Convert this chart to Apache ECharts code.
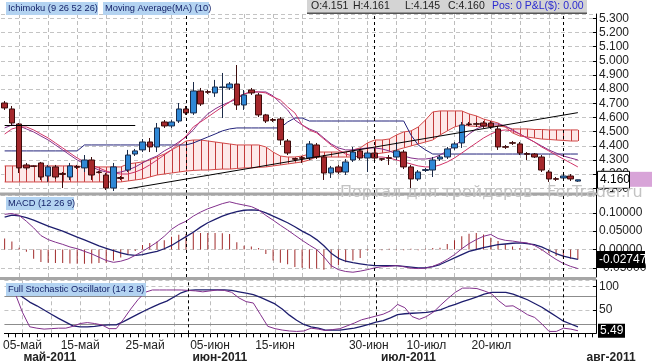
<!DOCTYPE html>
<html><head><meta charset="utf-8">
<script src="https://cdn.jsdelivr.net/npm/echarts@6/dist/echarts.min.js"></script>
<style>html,body{margin:0;padding:0;background:#fff}#c{width:652px;height:364px}</style>
</head><body><div id="c"></div>
<script>
const dates = ['03.05','04.05','05.05','06.05','08.05','09.05','10.05','11.05','12.05','13.05',
'15.05','16.05','17.05','18.05','19.05','20.05','22.05','23.05','24.05','25.05',
'26.05','27.05','29.05','30.05','31.05','01.06','02.06','03.06','05.06','06.06',
'07.06','08.06','09.06','10.06','12.06','13.06','14.06','15.06','16.06','17.06',
'19.06','20.06','21.06','22.06','23.06','24.06','26.06','27.06','28.06','29.06',
'30.06','01.07','03.07','04.07','05.07','06.07','07.07','08.07','10.07','11.07',
'12.07','13.07','14.07','15.07','17.07','18.07','19.07','20.07','21.07','22.07',
'24.07','25.07','26.07','27.07','28.07','29.07','31.07','01.08','02.08','03.08',
'04.08','05.08'];

const open = [4.702,4.660,4.554,4.265,4.258,4.279,4.187,4.251,4.205,4.180,
4.254,4.244,4.300,4.215,4.194,4.102,4.176,4.229,4.342,4.371,
4.427,4.392,4.568,4.540,4.575,4.660,4.632,4.787,4.782,4.773,
4.812,4.808,4.836,4.688,4.794,4.759,4.618,4.585,4.589,4.434,
4.310,4.316,4.314,4.406,4.321,4.208,4.251,4.215,4.300,4.364,
4.314,4.349,4.309,4.316,4.321,4.356,4.251,4.166,4.226,4.229,
4.307,4.321,4.385,4.420,4.554,4.556,4.561,4.561,4.519,4.394,
4.422,4.413,4.345,4.342,4.321,4.215,4.168,4.173,4.187,4.151];
const close = [4.667,4.561,4.244,4.244,4.255,4.180,4.251,4.180,4.198,4.258,
4.248,4.300,4.194,4.212,4.102,4.251,4.170,4.335,4.364,4.427,
4.392,4.526,4.540,4.568,4.660,4.632,4.787,4.695,4.778,4.815,
4.815,4.836,4.688,4.759,4.773,4.618,4.575,4.580,4.441,4.349,
4.305,4.312,4.413,4.321,4.208,4.244,4.215,4.286,4.356,4.314,
4.349,4.314,4.305,4.312,4.364,4.251,4.166,4.215,4.232,4.300,
4.321,4.378,4.413,4.547,4.550,4.552,4.540,4.533,4.392,4.390,
4.418,4.349,4.340,4.321,4.229,4.166,4.164,4.187,4.166,4.160];
const low = [4.653,4.547,4.208,4.229,4.250,4.159,4.145,4.166,4.102,4.159,
4.236,4.215,4.159,4.205,4.088,4.081,4.159,4.215,4.328,4.356,
4.356,4.356,4.526,4.526,4.561,4.618,4.618,4.681,4.766,4.745,
4.596,4.794,4.653,4.653,4.759,4.603,4.561,4.568,4.406,4.335,
4.293,4.279,4.300,4.307,4.159,4.173,4.201,4.194,4.286,4.300,
4.215,4.300,4.293,4.265,4.300,4.236,4.088,4.152,4.215,4.180,
4.293,4.307,4.371,4.385,4.540,4.533,4.526,4.519,4.371,4.378,
4.406,4.335,4.300,4.314,4.215,4.145,4.152,4.152,4.152,4.145];
const high = [4.716,4.681,4.561,4.279,4.262,4.286,4.265,4.265,4.215,4.279,
4.265,4.335,4.321,4.222,4.208,4.279,4.187,4.371,4.378,4.448,
4.455,4.561,4.582,4.582,4.702,4.681,4.850,4.808,4.794,4.865,
4.914,4.850,4.970,4.794,4.808,4.773,4.625,4.596,4.603,4.448,
4.314,4.328,4.434,4.420,4.335,4.258,4.265,4.307,4.392,4.378,
4.364,4.364,4.314,4.335,4.427,4.371,4.265,4.229,4.244,4.321,
4.335,4.392,4.427,4.568,4.568,4.568,4.575,4.575,4.540,4.406,
4.434,4.427,4.356,4.349,4.335,4.229,4.180,4.208,4.201,4.161];

const spanA = [4.258,4.258,4.258,4.258,4.258,4.258,4.258,4.258,4.258,4.258,
4.258,4.251,4.251,4.251,4.251,4.251,4.251,4.272,4.279,4.286,
4.300,4.321,4.342,4.371,4.399,4.434,4.441,4.441,4.434,4.427,
4.420,4.413,4.406,4.406,4.406,4.406,4.392,4.356,4.328,4.321,
4.321,4.328,4.342,4.356,4.356,4.356,4.356,4.356,4.371,4.385,
4.420,4.441,4.441,4.448,4.476,4.498,4.505,4.533,4.582,4.639,
4.646,4.646,4.646,4.646,4.625,4.611,4.589,4.575,4.561,4.533,
4.491,4.469,4.462,4.455,4.448,4.445,4.441,4.438,4.434,4.434];
const spanB = [4.145,4.145,4.145,4.145,4.145,4.145,4.145,4.145,4.145,4.145,
4.145,4.145,4.145,4.145,4.145,4.145,4.145,4.152,4.159,4.166,
4.180,4.194,4.201,4.208,4.215,4.222,4.226,4.229,4.229,4.233,
4.236,4.236,4.240,4.244,4.244,4.248,4.251,4.258,4.265,4.272,
4.279,4.286,4.300,4.321,4.321,4.321,4.321,4.321,4.321,4.328,
4.335,4.342,4.349,4.356,4.371,4.385,4.399,4.413,4.427,4.441,
4.476,4.505,4.533,4.547,4.540,4.537,4.537,4.540,4.540,4.533,
4.519,4.519,4.519,4.515,4.515,4.512,4.512,4.512,4.512,4.512];
const kijun = [4.364,4.364,4.364,4.364,4.364,4.364,4.364,4.364,4.364,4.364,
4.364,4.406,4.406,4.406,4.406,4.406,4.406,4.406,4.406,4.406,
4.406,4.406,4.406,4.406,4.406,4.406,4.420,4.441,4.462,4.483,
4.505,4.519,4.526,4.526,4.526,4.526,4.526,4.526,4.526,4.568,
4.596,4.596,4.575,4.575,4.575,4.575,4.575,4.575,4.575,4.575,
4.575,4.575,4.575,4.575,4.575,4.575,4.476,4.406,4.371,4.342,
4.342,4.342,4.342,4.342,4.342,4.342,4.342,4.342,4.342,4.342,
4.342,4.342,4.342,4.342,4.342,4.342,4.342,4.342,4.342,4.342];
const linePurple = [4.526,4.547,4.540,4.519,4.498,4.469,4.441,4.406,4.371,4.335,
4.300,4.272,4.251,4.229,4.215,4.208,4.215,4.229,4.251,4.279,
4.307,4.328,4.364,4.392,4.427,4.462,4.512,4.575,4.625,4.660,
4.688,4.709,4.730,4.766,4.780,4.780,4.780,4.752,4.702,4.653,
4.582,4.547,4.519,4.498,4.455,4.413,4.385,4.371,4.371,4.378,
4.385,4.385,4.378,4.364,4.342,4.328,4.314,4.307,4.307,4.314,
4.335,4.364,4.399,4.441,4.483,4.519,4.540,4.554,4.554,4.540,
4.512,4.483,4.455,4.427,4.399,4.371,4.349,4.328,4.314,4.300];
const ma10 = [4.483,4.519,4.533,4.533,4.512,4.483,4.455,4.420,4.385,4.349,
4.314,4.286,4.265,4.244,4.222,4.208,4.201,4.201,4.215,4.236,
4.265,4.300,4.335,4.371,4.420,4.469,4.533,4.568,4.603,4.639,
4.674,4.709,4.745,4.766,4.780,4.780,4.773,4.745,4.723,4.674,
4.632,4.547,4.512,4.491,4.448,4.406,4.371,4.342,4.328,4.321,
4.321,4.321,4.321,4.314,4.300,4.286,4.272,4.258,4.251,4.251,
4.265,4.286,4.314,4.349,4.385,4.420,4.455,4.483,4.505,4.512,
4.505,4.483,4.455,4.427,4.392,4.364,4.335,4.307,4.279,4.251];

const macdFast = [0.096,0.098,0.093,0.077,0.059,0.038,0.027,0.020,0.014,0.007,
0.002,-0.005,-0.012,-0.021,-0.030,-0.035,-0.032,-0.026,-0.016,-0.005,
0.007,0.020,0.036,0.055,0.068,0.077,0.091,0.102,0.111,0.118,
0.125,0.130,0.125,0.121,0.117,0.108,0.093,0.080,0.066,0.053,
0.039,0.025,0.012,0.000,-0.020,-0.044,-0.055,-0.060,-0.062,-0.059,
-0.055,-0.050,-0.047,-0.046,-0.044,-0.047,-0.051,-0.052,-0.051,-0.046,
-0.038,-0.027,-0.014,0.002,0.016,0.027,0.036,0.041,0.030,0.025,
0.023,0.020,0.018,0.011,0.000,-0.014,-0.027,-0.038,-0.046,-0.052];
const macdSlow = [0.088,0.094,0.092,0.087,0.080,0.072,0.064,0.057,0.050,0.042,
0.034,0.026,0.018,0.010,0.003,-0.003,-0.009,-0.014,-0.016,-0.014,
-0.009,-0.005,0.002,0.011,0.023,0.035,0.047,0.061,0.073,0.082,
0.091,0.098,0.103,0.107,0.108,0.107,0.100,0.091,0.082,0.073,
0.062,0.050,0.040,0.027,0.010,-0.010,-0.024,-0.032,-0.036,-0.039,
-0.042,-0.044,-0.044,-0.044,-0.044,-0.046,-0.048,-0.050,-0.050,-0.047,
-0.041,-0.032,-0.023,-0.014,-0.005,0.000,0.005,0.009,0.013,0.015,
0.017,0.018,0.016,0.013,0.007,-0.002,-0.011,-0.018,-0.023,-0.027];
const macdHist = [0.030,0.022,0.005,-0.006,-0.025,-0.034,-0.036,-0.037,-0.037,-0.038,
-0.039,-0.039,-0.038,-0.037,-0.036,-0.030,-0.022,-0.014,-0.004,0.012,
0.018,0.022,0.025,0.035,0.040,0.042,0.045,0.045,0.045,0.045,
0.044,0.042,0.020,0.010,0.008,0.004,-0.012,-0.030,-0.036,-0.040,
-0.048,-0.050,-0.052,-0.052,-0.055,-0.050,-0.043,-0.035,-0.030,-0.023,
-0.003,-0.002,-0.002,0.002,-0.002,-0.002,0.002,-0.002,0.002,0.004,
0.005,0.015,0.025,0.036,0.043,0.045,0.041,0.032,0.023,0.014,
0.008,0.004,0.003,0.002,-0.003,-0.010,-0.018,-0.024,-0.025,-0.027];

const stochK = [94,85,45,14,11,9,10,11,11,15,
21,23,21,18,10,10,30,52,72,88,
93,93,93,93,93,92,91,89,91,93,
92,88,76,68,65,40,15,10,7,5,
4,5,11,9,6,8,10,16,22,29,
33,37,41,48,62,55,36,30,36,46,
61,75,88,97,97,96,91,85,70,58,
59,50,40,34,20,4,4,11,9,5.49];
const stochD = [94,90,78,67,59,50,41,32,24,16,
14,14,15,17,18,18,25,33,41,49,
56,63,69,78,87,92,93,93,93,93,
93,92,89,86,83,77,70,63,52,39,
28,19,14,11,7,7,7,9,11,15,
19,24,27,33,40,42,43,44,45,47,
51,57,62,68,73,78,84,88,88,88,
84,78,72,64,56,46,36,26,20,14];

const tickIdx = [2,10,19,28,37,50,58,67];
const tickText = ['05-май','15-май','25-май','05-июн','15-июн','30-июн','10-июл','20-июл'];
const monthIdx = [2,25,51,77];
const monthText = ['май-2011','июн-2011','июл-2011','авг-2011'];
const gridIdx = [2,6,10,14,19,23,28,33,37,41,46,50,54,58,62,67,71,75];
const monthLineIdx = [25,51,77];
const trendLine = [[17,4.096],[79,4.634]];
const flatLine = [[0,4.547],[18,4.547]];
const macdLast = -0.02747;
const stochLast = 5.49;
const stochLevels = [20,80];

const FONT = '"Liberation Sans", Arial, sans-serif';
const chart = echarts.init(document.getElementById('c'), null, {renderer:'canvas'});

const vGrid = gridIdx.map(i => ({xAxis: dates[i]}));
const vMonth = monthLineIdx.map(i => ({xAxis: dates[i]}));
function bgLines(k){
  return {type:'line', xAxisIndex:k, yAxisIndex:k, data:[], silent:true,
    markLine:{silent:true, symbol:['none','none'], label:{show:false}, animation:false, z:1,
      lineStyle:{color:'#bdbdbd', type:[4,3], width:1}, emphasis:{disabled:true}, data:vGrid}};
}
function monthLines(k){
  return {type:'line', xAxisIndex:k, yAxisIndex:k, data:[], silent:true,
    markLine:{silent:true, symbol:['none','none'], label:{show:false}, animation:false, z:6,
      lineStyle:{color:'#000', type:[3,3], width:1}, emphasis:{disabled:true}, data:vMonth}};
}
function xCat(k, extra){
  return Object.assign({type:'category', gridIndex:k, data:dates, boundaryGap:true,
    axisLine:{show:false}, axisTick:{show:false}, axisLabel:{show:false}, splitLine:{show:false}}, extra||{});
}
function yVal(k, min, max, split, fmt){
  return {type:'value', gridIndex:k, position:'right', min:min, max:max, splitNumber:split,
    axisLine:{show:true, lineStyle:{color:'#000', width:1}},
    axisTick:{show:true, inside:true, length:3, lineStyle:{color:'#000'}},
    axisLabel:{showMinLabel:false, showMaxLabel:false, color:'#222', fontSize:12, fontFamily:FONT, margin:3, formatter:fmt},
    splitLine:{show:true, lineStyle:{color:'#c4c4c4', type:[4,3], width:1}}};
}

const cloudData = spanA.map((a,i) => [i, a, spanB[i],
  i < spanA.length-1 ? spanA[i+1] : a, i < spanB.length-1 ? spanB[i+1] : spanB[i]]);

const option = {
  animation:false,
  textStyle:{fontFamily:FONT},
  grid:[
    {left:1, width:595, top:14, height:179},
    {left:1, width:595, top:195, height:82},
    {left:1, width:595, top:280, height:53.3}
  ],
  xAxis:[
    xCat(0), xCat(1),
    xCat(2, {axisLine:{show:true, lineStyle:{color:'#000'}},
      axisTick:{show:true, interval:0, alignWithLabel:true, length:4, lineStyle:{color:'#000'}},
      axisLabel:{show:true, interval:(i)=>tickIdx.includes(i), color:'#222', fontSize:12, margin:6,
        formatter:(v,i)=>tickText[tickIdx.indexOf(i)]}}),
    xCat(2, {position:'bottom', offset:12,
      axisLabel:{show:true, interval:(i)=>monthIdx.includes(i), align:'left', margin:6,
        formatter:(v,i)=>'{m'+monthIdx.indexOf(i)+'|'+monthText[monthIdx.indexOf(i)]+'}',
        rich:{
          m0:{fontWeight:'bold', fontSize:12, color:'#222', fontFamily:FONT, padding:[0,0,0,1]},
          m1:{fontWeight:'bold', fontSize:12, color:'#222', fontFamily:FONT, padding:[0,0,0,4]},
          m2:{fontWeight:'bold', fontSize:12, color:'#222', fontFamily:FONT, padding:[0,0,0,5]},
          m3:{fontWeight:'bold', fontSize:12, color:'#222', fontFamily:FONT, padding:[0,0,0,23]}
        }}})
  ],
  yAxis:[
    yVal(0, 4.067, 5.330, 12, v=>v.toFixed(3)),
    yVal(1, -0.075, 0.1486, 4, v=>v.toFixed(5)),
    yVal(2, 0, 114.4, 2, v=>String(Math.round(v)))
  ],
  series:[
    bgLines(0), bgLines(1), bgLines(2),
    {type:'line', xAxisIndex:2, yAxisIndex:2, data:[], silent:true,
      markLine:{silent:true, symbol:['none','none'], label:{show:false}, animation:false, z:1,
        lineStyle:{color:'#8c8c8c', type:'solid', width:1}, emphasis:{disabled:true},
        data:stochLevels.map(v=>({yAxis:v}))}},
    {type:'custom', xAxisIndex:0, yAxisIndex:0, z:1, silent:true, clip:true,
      encode:{x:0, y:[1,2]}, data:cloudData,
      renderItem:function(params, api){
        const i = params.dataIndex;
        const a = api.value(1), b = api.value(2), an = api.value(3), bn = api.value(4);
        const pA = api.coord([i, a]), pB = api.coord([i, b]);
        const ch = [];
        if (i < spanA.length-1){
          const pAn = api.coord([i+1, an]), pBn = api.coord([i+1, bn]);
          ch.push({type:'polygon', shape:{points:[pA,pAn,pBn,pB]}, style:{fill:'#fde9e9', stroke:'#fde9e9', lineWidth:0.5}});
        }
        const x = Math.round(pA[0]) + 0.5;
        ch.push({type:'line', shape:{x1:x, y1:pA[1], x2:x, y2:pB[1]}, style:{stroke:'#c23a3a', lineWidth:1}});
        return {type:'group', children:ch};
      }},
    {type:'line', name:'spanA', xAxisIndex:0, yAxisIndex:0, data:spanA, symbol:'none', z:2, silent:true,
      lineStyle:{color:'#d24a4a', width:1}},
    {type:'line', name:'spanB', xAxisIndex:0, yAxisIndex:0, data:spanB, symbol:'none', z:2, silent:true,
      lineStyle:{color:'#d24a4a', width:1}},
    {type:'line', name:'kijun', xAxisIndex:0, yAxisIndex:0, data:kijun, symbol:'none', z:2, silent:true,
      lineStyle:{color:'#22227a', width:1}},
    {type:'line', name:'purple', xAxisIndex:0, yAxisIndex:0, data:linePurple, symbol:'none', z:2, silent:true,
      lineStyle:{color:'#86308a', width:1}},
    {type:'line', name:'ma10', xAxisIndex:0, yAxisIndex:0, data:ma10, symbol:'none', z:2, silent:true,
      lineStyle:{color:'#d03468', width:1}},
    {type:'candlestick', xAxisIndex:0, yAxisIndex:0, z:3, barWidth:6, silent:true,
      data:open.map((o,i)=>[o, close[i], low[i], high[i]]),
      itemStyle:{color:'#2f88d6', color0:'#a5282c', borderColor:'#1b2b48', borderColor0:'#3d0c0c', borderWidth:1}},
    {type:'line', xAxisIndex:0, yAxisIndex:0, data:[], silent:true,
      markLine:{silent:true, symbol:['none','none'], label:{show:false}, animation:false, z:6,
        lineStyle:{color:'#000', type:'solid', width:1}, emphasis:{disabled:true},
        data:[[{coord:trendLine[0]},{coord:trendLine[1]}],[{coord:flatLine[0]},{coord:flatLine[1]}]]}},
    monthLines(0), monthLines(1), monthLines(2),
    {type:'bar', xAxisIndex:1, yAxisIndex:1, data:macdHist, barWidth:1, z:2, silent:true,
      itemStyle:{color:'#a02a2a'}},
    {type:'line', xAxisIndex:1, yAxisIndex:1, data:macdSlow, symbol:'none', z:3, silent:true,
      lineStyle:{color:'#1e1e6e', width:1.3}},
    {type:'line', xAxisIndex:1, yAxisIndex:1, data:macdFast, symbol:'none', z:3, silent:true,
      lineStyle:{color:'#82308c', width:1}},
    {type:'line', xAxisIndex:2, yAxisIndex:2, data:stochD, symbol:'none', z:3, silent:true,
      lineStyle:{color:'#1e1e6e', width:1.3}},
    {type:'line', xAxisIndex:2, yAxisIndex:2, data:stochK, symbol:'none', z:3, silent:true,
      lineStyle:{color:'#82308c', width:1}}
  ]
};
chart.setOption(option);

function txt(x, y, t, size, color, extra, fam){
  return Object.assign({type:'text', x:x, y:y, z:101, silent:true,
    style:{text:t, fill:color, font:'normal '+size+'px '+(fam||FONT), align:'left', verticalAlign:'middle'}}, extra||{});
}
function rect(x, y, w, h, fill, extra){
  return Object.assign({type:'rect', z:100, silent:true, shape:{x:x, y:y, width:w, height:h}, style:{fill:fill}}, extra||{});
}
const yPrice = chart.convertToPixel({yAxisIndex:0}, close[close.length-1]);
const yMacd = chart.convertToPixel({yAxisIndex:1}, macdLast);
const yStoch = chart.convertToPixel({yAxisIndex:2}, stochLast);
const WM = '"DejaVu Sans", Verdana, sans-serif';

const g = [
  rect(0, 192.5, 596, 3, '#a6a6a6'),
  rect(0, 277, 596, 3, '#a6a6a6'),
  rect(6, 2, 92, 13, '#b3d3f1'),
  txt(8, 8.5, 'Ichimoku (9 26 52 26)', 9.3, '#16246a'),
  rect(103, 2, 106, 13, '#b3d3f1'),
  txt(105, 8.5, 'Moving Average(MA) (10)', 9.3, '#16246a'),
  rect(307, 0, 280, 13, '#d4d4d4'),
  rect(307, 12.5, 280, 1.5, '#555'),
  txt(311, 6.5, 'O:4.151', 10.5, '#222'),
  txt(353, 6.5, 'H:4.161', 10.5, '#222'),
  txt(405, 6.5, 'L:4.145', 10.5, '#222'),
  txt(448, 6.5, 'C:4.160', 10.5, '#222'),
  txt(492, 6.5, 'Pos: 0 P&L($): 0.00', 10.5, '#2a2ad0'),
  rect(6, 197, 68, 13, '#b3d3f1'),
  txt(8, 203.5, 'MACD (12 26 9)', 9.3, '#16246a'),
  rect(6, 283, 140, 13, '#b3d3f1'),
  txt(8, 289.5, 'Full Stochastic Oscillator (14 2 8)', 9.3, '#16246a'),
  rect(597.5, yPrice-8.5, 32, 17, '#fff', {style:{fill:'#fff', stroke:'#000', lineWidth:1}}),
  rect(630, yPrice-8, 22, 15, '#d8a4d8'),
  txt(600, yPrice, close[close.length-1].toFixed(3), 12, '#000'),
  txt(340, 192.5, 'Портал для трейдеров', 16, '#c3c3c3', {z:102}, WM),
  txt(547, 192.5, 'ForTrader.ru', 16, '#c3c3c3', {z:102}, WM),
  rect(597, yMacd-8.5, 48, 17, '#000'),
  txt(599, yMacd, macdLast.toFixed(5), 12, '#fff'),
  rect(598, yStoch-7, 27, 14, '#000'),
  txt(600, yStoch, stochLast.toFixed(2), 12, '#fff')
];
chart.setOption({graphic:g});
</script>
</body></html>
